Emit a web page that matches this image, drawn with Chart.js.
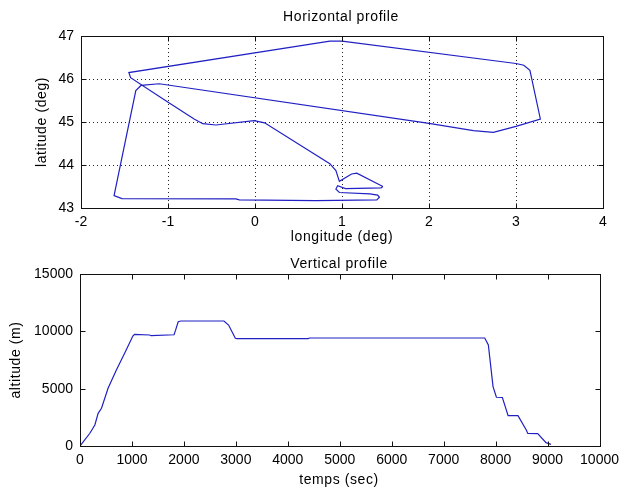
<!DOCTYPE html>
<html><head><meta charset="utf-8">
<script src="https://cdn.jsdelivr.net/npm/chart.js@4/dist/chart.umd.min.js"></script>
<style>
html,body{margin:0;padding:0;background:#fff;}
#wrap{position:relative;width:625px;height:493px;overflow:hidden;}
canvas{position:absolute;left:0;}
</style></head><body>
<div id="wrap">
<canvas id="c1" width="625" height="250" style="top:0px"></canvas>
<canvas id="c2" width="625" height="243" style="top:250px"></canvas>
</div>
<script>
// ---- Data: horizontal profile ----
const lonValues = [1.47, 1.45, 1.04, 0.95, 0.93, 0.97, 1.32, 1.41, 1.43, 1.40, 0.70, -0.18, -0.22, -1.53, -1.62,
  -1.37, -1.31, -1.10, 2.00, 2.51, 2.74, 3.00, 3.28, 3.16, 3.09, 3.00, 1.00, 0.86, -1.45, -1.43,
  -1.03, -0.70, -0.60, -0.45, -0.01, 0.11, 0.86, 0.93, 0.97, 1.11, 1.17, 1.47];
const latValues = [43.50, 43.47, 43.45, 43.52, 43.44, 43.36, 43.33, 43.30, 43.25, 43.19, 43.17, 43.19, 43.21, 43.22, 43.29,
  45.73, 45.85, 45.89, 44.97, 44.80, 44.76, 44.90, 45.07, 46.20, 46.32, 46.36, 46.88, 46.88, 46.15, 46.03,
  45.50, 45.07, 44.96, 44.93, 45.03, 44.98, 44.03, 43.87, 43.62, 43.79, 43.81, 43.50];
// ---- Data: vertical profile ----
const timeValues = [0, 190, 286, 349, 414, 540, 700, 859, 1017, 1050, 1340, 1370, 1810, 1840, 1890, 1940, 2770, 2860, 2990, 3020,
  4390, 4420, 7790, 7860, 7950, 8015, 8130, 8240, 8430, 8590, 8620, 8810, 8970, 9065];
const altValues = [0, 1110, 1830, 2850, 3290, 5030, 6630, 8080, 9590, 9740, 9680, 9620, 9700, 10100, 10840, 10900, 10900, 10550, 9390, 9360,
  9360, 9420, 9420, 8810, 5180, 4250, 4230, 2650, 2650, 1400, 1100, 1080, 290, 145];
// ---- Axis ticks / labels ----
const lonTicks = [-2, -1, 0, 1, 2, 3, 4];
const latTicks = [43, 44, 45, 46, 47];
const timeTicks = [0, 1000, 2000, 3000, 4000, 5000, 6000, 7000, 8000, 9000, 10000];
const altTicks = [0, 5000, 10000, 15000];
const titles = ["Horizontal profile", "Vertical profile"];
const axisLabels = { lon: "longitude (deg)", lat: "latitude (deg)", time: "temps (sec)", alt: "altitude (m)" };

const FONT = '"Liberation Sans", Arial, Helvetica, sans-serif';
const LINE = 'rgb(32,32,196)';

const matlabAxes = {
  id: 'matlabAxes',
  beforeDatasetsDraw(chart, args, opts) {
    if (!opts.grid) return;
    const { ctx, chartArea: a, scales: { x, y } } = chart;
    ctx.save();
    ctx.strokeStyle = '#222';
    ctx.lineWidth = 1;
    ctx.setLineDash([1, 3]);
    ctx.beginPath();
    x.ticks.forEach(t => {
      if (t.value > x.min && t.value < x.max) {
        const px = Math.round(x.getPixelForValue(t.value)) + 0.5;
        ctx.moveTo(px, a.top); ctx.lineTo(px, a.bottom);
      }
    });
    y.ticks.forEach(t => {
      if (t.value > y.min && t.value < y.max) {
        const py = Math.round(y.getPixelForValue(t.value)) + 0.5;
        ctx.moveTo(a.left, py); ctx.lineTo(a.right, py);
      }
    });
    ctx.stroke();
    ctx.restore();
  },
  afterDatasetsDraw(chart, args, opts) {
    const { ctx, chartArea: a, scales: { x, y } } = chart;
    ctx.save();
    ctx.strokeStyle = '#111';
    ctx.lineWidth = 1;
    ctx.setLineDash([]);
    const L = Math.round(a.left) + 0.5, R = Math.round(a.right) + 0.5;
    const T = Math.round(a.top) + 0.5, B = Math.round(a.bottom) + 0.5;
    ctx.strokeRect(L, T, R - L, B - T);
    const tl = 5;
    ctx.beginPath();
    x.ticks.forEach(t => {
      const px = Math.round(x.getPixelForValue(t.value)) + 0.5;
      ctx.moveTo(px, B); ctx.lineTo(px, B - tl);
      ctx.moveTo(px, T); ctx.lineTo(px, T + tl);
    });
    y.ticks.forEach(t => {
      const py = Math.round(y.getPixelForValue(t.value)) + 0.5;
      ctx.moveTo(L, py); ctx.lineTo(L + tl, py);
      ctx.moveTo(R, py); ctx.lineTo(R - tl, py);
    });
    ctx.stroke();
    ctx.restore();
  },
  afterDraw(chart, args, opts) {
    const { ctx } = chart;
    ctx.save();
    ctx.fillStyle = '#000';
    ctx.font = '14px ' + FONT;
    if ('letterSpacing' in ctx) ctx.letterSpacing = '0.6px';
    ctx.textAlign = 'center';
    ctx.textBaseline = 'middle';
    ctx.fillText(opts.title, opts.titleX, opts.titleY);
    ctx.fillText(opts.xLabel, opts.xLabelX, opts.xLabelY);
    ctx.translate(opts.yLabelX, opts.yLabelY);
    ctx.rotate(-Math.PI / 2);
    ctx.fillText(opts.yLabel, 0, 0);
    ctx.restore();
  }
};

function scaleOpts(min, max, ticksArr, pad, fitKey, fitVal) {
  return {
    type: 'linear', min: min, max: max,
    afterBuildTicks(s) { s.ticks = ticksArr.map(v => ({ value: v })); },
    ticks: { font: { size: 14, family: FONT }, color: '#000', padding: pad, maxRotation: 0, autoSkip: false,
      callback: v => String(v) },
    grid: { display: false, drawTicks: false },
    border: { display: false },
    afterFit(s) { s[fitKey] = fitVal; }
  };
}

new Chart(document.getElementById('c1'), {
  type: 'scatter',
  data: { datasets: [{ data: lonValues.map((v, i) => ({ x: v, y: latValues[i] })), showLine: true,
    borderColor: LINE, borderWidth: 1.2, pointRadius: 0, fill: false, tension: 0 }] },
  options: {
    responsive: false, animation: false, devicePixelRatio: 1,
    layout: { padding: { left: 0, right: 22, top: 36, bottom: 0 } },
    scales: {
      x: scaleOpts(-2, 4, lonTicks, 6, 'height', 42),
      y: scaleOpts(43, 47, latTicks, 7, 'width', 81)
    },
    plugins: {
      legend: { display: false }, tooltip: { enabled: false },
      matlabAxes: { grid: true, title: titles[0], titleX: 341, titleY: 17,
        xLabel: axisLabels.lon, xLabelX: 342, xLabelY: 237, yLabel: axisLabels.lat, yLabelX: 42, yLabelY: 122 }
    }
  },
  plugins: [matlabAxes]
});

new Chart(document.getElementById('c2'), {
  type: 'scatter',
  data: { datasets: [{ data: timeValues.map((v, i) => ({ x: v, y: altValues[i] })), showLine: true,
    borderColor: LINE, borderWidth: 1.2, pointRadius: 0, fill: false, tension: 0 }] },
  options: {
    responsive: false, animation: false, devicePixelRatio: 1,
    layout: { padding: { left: 0, right: 21, top: 24, bottom: 0 } },
    scales: {
      x: scaleOpts(0, 10000, timeTicks, 6, 'height', 47),
      y: scaleOpts(0, 15000, altTicks, 7, 'width', 80)
    },
    plugins: {
      legend: { display: false }, tooltip: { enabled: false },
      matlabAxes: { grid: false, title: titles[1], titleX: 339, titleY: 14,
        xLabel: axisLabels.time, xLabelX: 339, xLabelY: 230, yLabel: axisLabels.alt, yLabelX: 16, yLabelY: 110 }
    }
  },
  plugins: [matlabAxes]
});
</script>
</body></html>
